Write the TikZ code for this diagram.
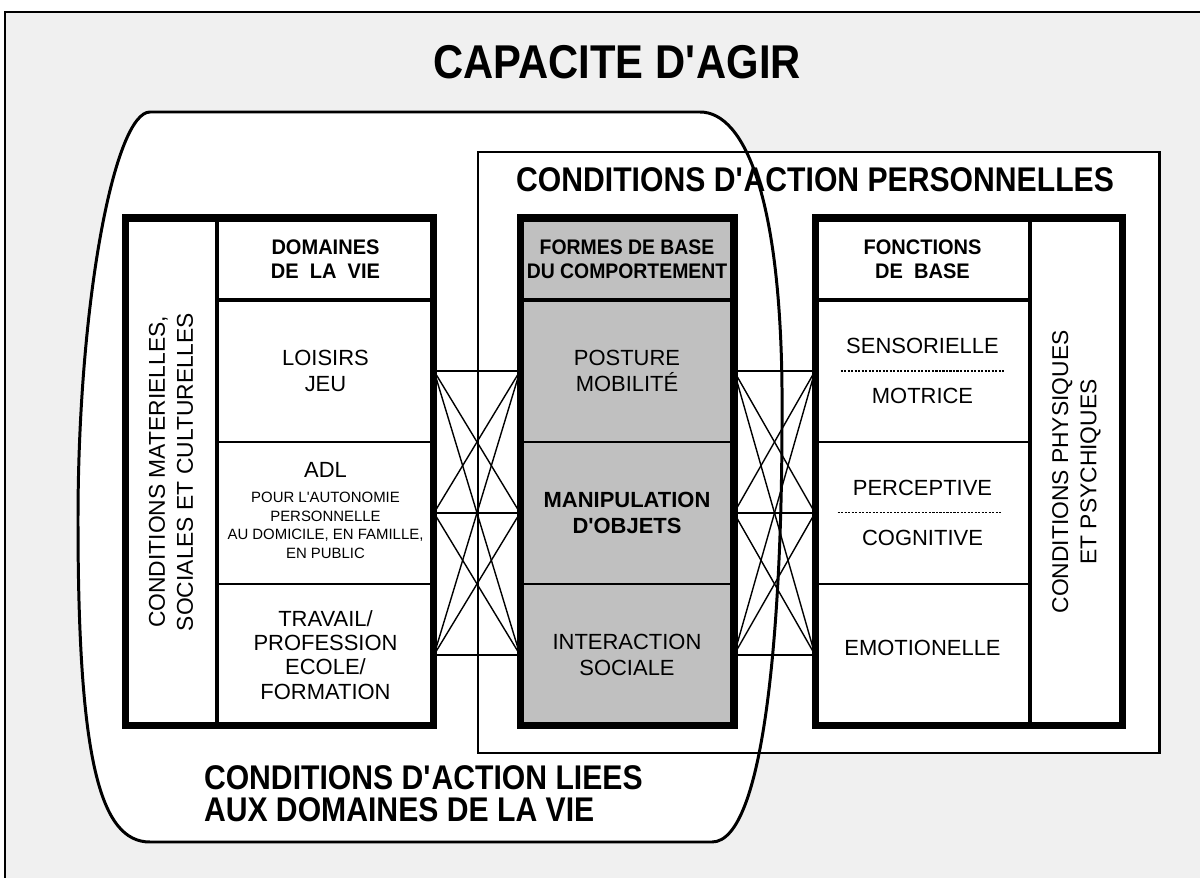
\documentclass[tikz,border=0pt]{standalone}
\usepackage{fontspec}
\usepackage{tikz}
\usetikzlibrary{positioning}
\setmainfont{Liberation Sans}
\newfontfamily\narrowsans[FakeStretch=0.88]{Liberation Sans}
\newfontfamily\headsans[FakeStretch=0.95]{Liberation Sans}
\newfontfamily\tightsans[FakeStretch=0.92]{Liberation Sans}
\definecolor{paper}{HTML}{F0F0F0}
\definecolor{shade}{HTML}{C0C0C0}
\newcommand\smallline{\fontsize{8.5}{10.5}\selectfont}
\newcommand\apos{\textquotesingle}

\begin{document}
\begin{tikzpicture}[x=0.02cm,y=-0.02cm,inner sep=0pt,outer sep=0pt,
  cell/.style={draw,line width=0.8pt,rectangle,align=center,font=\fontsize{12.5}{14.5}\selectfont},
  head/.style={cell,minimum height=1.64cm,font=\headsans\bfseries\fontsize{12}{13.6}\selectfont},
  row/.style={cell,minimum height=2.84cm},
  side/.style={rotate=90,align=center,font=\fontsize{13}{16}\selectfont},
  frame/.style={line width=4pt},
  divide/.style={line width=2.8pt},
  link/.style={line width=0.8pt},
  dots/.style={line width=0.6pt,dash pattern=on 1.2pt off 0.8pt},
  bigtitle/.style={font=\narrowsans\bfseries\fontsize{27}{30}\selectfont},
  subtitle/.style={font=\narrowsans\bfseries\fontsize{19.5}{18}\selectfont}]
\useasboundingbox (0,0) rectangle (1200,878);
\clip (0,0) rectangle (1200,878);
\filldraw[fill=paper,line width=1.1pt] (5,12) rectangle (1230,900);

\path[save path=\lifepath] (150,112) -- (700,112)
  .. controls (745,112) and (784,200) .. (782,420)
  .. controls (782,620) and (765,842) .. (712,842) -- (150,842)
  .. controls (100,842) and (78,760) .. (78,520)
  .. controls (78,300) and (115,112) .. (150,112) -- cycle;
\fill[white,use path=\lifepath];
\filldraw[fill=white,line width=1.7pt] (478,152) rectangle (1159,753);
\draw[line width=1.7pt,use path=\lifepath];

\node[bigtitle] (title) at (617,62) {CAPACITE D\apos AGIR};
\node[subtitle] (perso) at (815,180) {CONDITIONS D\apos ACTION PERSONNELLES};
\node[subtitle,align=left,anchor=west] (liees) at (204,794) {CONDITIONS D\apos ACTION LIEES\\AUX DOMAINES DE LA VIE};

\node[head,minimum width=4.34cm,fill=white] (domHead) at (325.5,259) {DOMAINES\\DE~ LA~ VIE};
\node[row,minimum width=4.34cm,fill=white,below=0pt of domHead] (dom1) {LOISIRS\\JEU};
\node[row,minimum width=4.34cm,fill=white,below=0pt of dom1] (dom2) {ADL\\[6pt]\smallline\begin{tabular}{@{}c@{}}POUR L\apos AUTONOMIE\\PERSONNELLE\\AU DOMICILE, EN FAMILLE,\\EN PUBLIC\end{tabular}};
\node[row,minimum width=4.34cm,fill=white,below=0pt of dom2,font=\fontsize{12.5}{13.8}\selectfont] (dom3) {TRAVAIL/\\PROFESSION\\ECOLE/\\FORMATION};
\node[cell,minimum width=1.84cm,minimum height=10.16cm,fill=white,anchor=north east] (mat) at (domHead.north west) {};
\node[side] (matText) at (mat.center) {CONDITIONS MATERIELLES,\\SOCIALES ET CULTURELLES};

\node[head,minimum width=4.28cm,fill=shade,font=\tightsans\bfseries\fontsize{12}{13.6}\selectfont] (frmHead) at (627,259) {FORMES DE BASE\\DU COMPORTEMENT};
\node[row,minimum width=4.28cm,fill=shade,below=0pt of frmHead] (frm1) {POSTURE\\MOBILITÉ};
\node[row,minimum width=4.28cm,fill=shade,below=0pt of frm1,font=\bfseries\fontsize{12.5}{14.5}\selectfont] (frm2) {MANIPULATION\\D\apos OBJETS};
\node[row,minimum width=4.28cm,fill=shade,below=0pt of frm2] (frm3) {INTERACTION\\SOCIALE};

\node[head,minimum width=4.3cm,fill=white] (fnHead) at (922.5,259) {FONCTIONS\\DE~ BASE};
\node[row,minimum width=4.3cm,fill=white,below=0pt of fnHead] (fn1) {SENSORIELLE\\[14pt]MOTRICE};
\node[row,minimum width=4.3cm,fill=white,below=0pt of fn1] (fn2) {PERCEPTIVE\\[14pt]COGNITIVE};
\node[row,minimum width=4.3cm,fill=white,below=0pt of fn2] (fn3) {EMOTIONELLE\\[-6.5pt]};
\node[cell,minimum width=1.86cm,minimum height=10.16cm,fill=white,anchor=north west] (phy) at (fnHead.north east) {};
\node[side] (phyText) at (phy.center) {CONDITIONS PHYSIQUES\\ET PSYCHIQUES};

\draw[dots] ([xshift=-1.64cm]fn1.center) -- ([xshift=1.64cm]fn1.center);
\draw[dots] ([xshift=-1.7cm]fn2.center) -- ([xshift=1.58cm]fn2.center);

\foreach \i in {1,2,3}
  \foreach \j in {1,2,3} {
    \draw[link] (dom\i.east) -- (frm\j.west);
    \draw[link] (frm\i.east) -- (fn\j.west);
  }

\draw[divide] (domHead.south west) -- (domHead.south east);
\draw[divide] (mat.north east) -- (mat.south east);
\draw[divide] (frmHead.south west) -- (frmHead.south east);
\draw[divide] (fnHead.south west) -- (fnHead.south east);
\draw[divide] (phy.north west) -- (phy.south west);
\draw[frame] (mat.north west) rectangle (dom3.south east);
\draw[frame] (frmHead.north west) rectangle (frm3.south east);
\draw[frame] (fnHead.north west) rectangle (phy.south east);

\end{tikzpicture}
\end{document}
